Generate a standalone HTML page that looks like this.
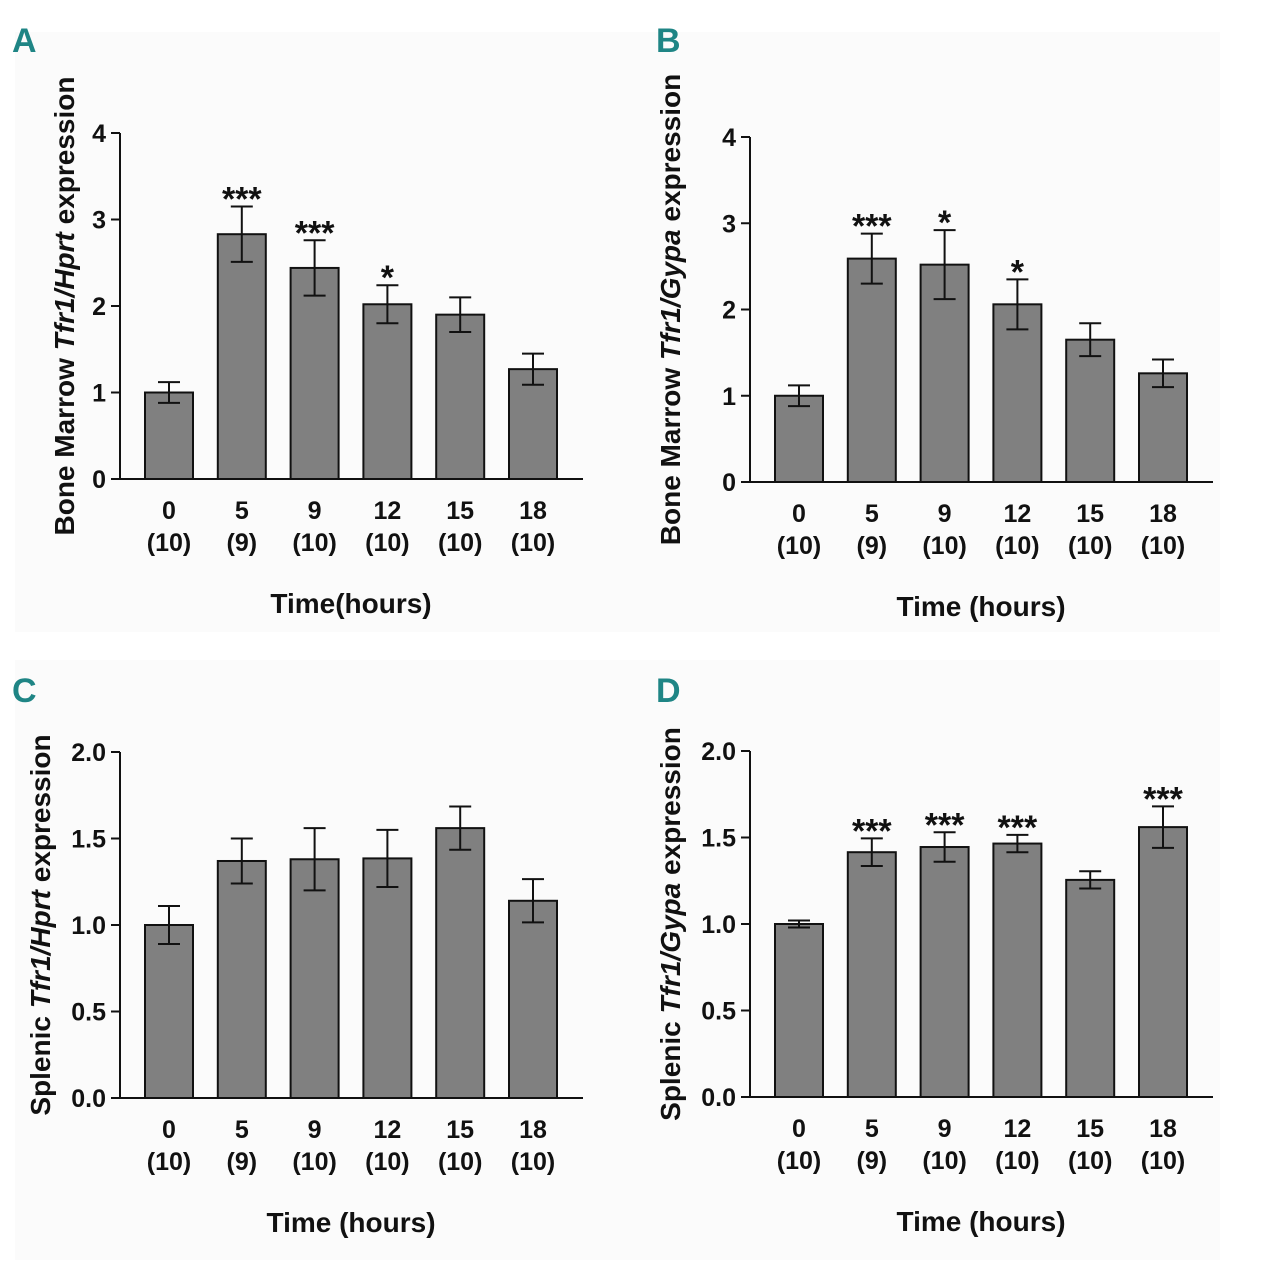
<!DOCTYPE html>
<html><head><meta charset="utf-8">
<style>
html,body{margin:0;padding:0;background:#fff;}
svg{display:block;font-family:"Liberation Sans",Arial,sans-serif;}
</style></head>
<body>
<svg id="fig" width="1261" height="1280" viewBox="0 0 1261 1280" xmlns="http://www.w3.org/2000/svg">
<rect x="15" y="32" width="675" height="600" fill="#fbfbfb"/>
<rect x="640" y="32" width="580" height="600" fill="#fbfbfb"/>
<rect x="15" y="660" width="675" height="600" fill="#fbfbfb"/>
<rect x="640" y="660" width="580" height="600" fill="#fbfbfb"/>
</svg>
<script>
const categories = ["0","5","9","12","15","18"];
const ns = ["(10)","(9)","(10)","(10)","(10)","(10)"];
const valuesA = [1.0, 2.83, 2.44, 2.02, 1.9, 1.27];
const errorsA = [0.12, 0.32, 0.32, 0.22, 0.2, 0.18];
const starsA = ["", "***", "***", "*", "", ""];
const valuesB = [1.0, 2.59, 2.52, 2.06, 1.65, 1.26];
const errorsB = [0.12, 0.29, 0.4, 0.29, 0.19, 0.16];
const starsB = ["", "***", "*", "*", "", ""];
const valuesC = [1.0, 1.37, 1.38, 1.385, 1.56, 1.14];
const errorsC = [0.11, 0.13, 0.18, 0.165, 0.125, 0.125];
const starsC = ["", "", "", "", "", ""];
const valuesD = [1.0, 1.415, 1.445, 1.465, 1.255, 1.56];
const errorsD = [0.02, 0.08, 0.085, 0.05, 0.05, 0.12];
const starsD = ["", "***", "***", "***", "", "***"];
const ticksAB = ["0","1","2","3","4"];
const ticksCD = ["0.0","0.5","1.0","1.5","2.0"];

const svg = document.getElementById('fig');
const NS = "http://www.w3.org/2000/svg";
function mk(tag, attrs, parent, text){
  const e = document.createElementNS(NS, tag);
  for (const k in attrs) e.setAttribute(k, attrs[k]);
  if (text !== undefined) e.textContent = text;
  (parent || svg).appendChild(e);
  return e;
}

function panel(p){
  const g = mk('g', {});
  
  
  const ymax = parseFloat(p.ticks[p.ticks.length-1]);
  const yS = v => p.y0 - (v / ymax) * (p.y0 - p.yTop);
  const xS = i => p.x0 + 49 + i * 72.8;
  const L = mk('text', {x: p.lx, y: p.ly, fill:'#1f8585', 'font-size':34, 'font-weight':'bold', 'font-family':'"Liberation Sans Narrow","Liberation Sans",sans-serif'}, g, p.letter);
  
  
  p.values.forEach((v, i) => {
    const cx = xS(i);
    const b = mk('rect', {x: cx-24, y: yS(v), width: 48, height: p.y0 - yS(v), fill:'#808080', stroke:'#111', 'stroke-width':2}, g);
    
    
    const top = yS(v + p.errors[i]), bot = yS(v - p.errors[i]);
    const eb = mk('path', {d:`M${cx},${top}V${bot}M${cx-11},${top}H${cx+11}M${cx-11},${bot}H${cx+11}`, stroke:'#111', 'stroke-width':2, fill:'none'}, g);
    
    
    if (p.stars[i]) {
      const s = mk('text', {x: cx, y: top + 4, 'text-anchor':'middle', 'font-size':34, 'font-weight':'bold', fill:'#111'}, g, p.stars[i]);
      
      
    }
    const c = mk('text', {x: cx, y: p.y0 + 40, 'text-anchor':'middle', 'font-size':25, 'font-weight':'bold', fill:'#111'}, g, categories[i]);
    
    
    const n = mk('text', {x: cx, y: p.y0 + 72, 'text-anchor':'middle', 'font-size':25, 'font-weight':'bold', fill:'#111'}, g, ns[i]);
    
    
  });
  const ax = mk('path', {d:`M${p.x0},${p.yTop}V${p.y0}H${p.x0+463}`, stroke:'#111', 'stroke-width':2, fill:'none'}, g);
  
  
  p.ticks.forEach(t => {
    const y = yS(parseFloat(t));
    mk('line', {x1: p.x0-9, x2: p.x0, y1: y, y2: y, stroke:'#111', 'stroke-width':2}, g);
    const tl = mk('text', {x: p.x0-14, y: y+9, 'text-anchor':'end', 'font-size':25, 'font-weight':'bold', fill:'#111'}, g, t);
    
    
  });
  const xt = mk('text', {x: p.x0+231, y: p.y0+134, 'text-anchor':'middle', 'font-size':28, 'font-weight':'bold', fill:'#111'}, g, p.xTitle);
  
  
  const cy = (p.y0 + p.yTop)/2 + p.tyOff;
  const yt = mk('text', {x: 0, y: 0, transform:`translate(${p.tx},${cy}) rotate(-90)`, 'text-anchor':'middle', 'font-size':28, 'font-weight':'bold', fill:'#111'}, g);
  
  
  mk('tspan', {}, yt, p.yT[0]);
  mk('tspan', {'font-style':'italic'}, yt, p.yT[1]);
  mk('tspan', {}, yt, p.yT[2]);
}

panel({id:'a', letter:'A', lx:12, ly:52, x0:120, y0:479, yTop:133, ticks:ticksAB, values:valuesA, errors:errorsA, stars:starsA, xTitle:'Time(hours)', tx:74, tyOff:0, yT:['Bone Marrow ','Tfr1/Hprt',' expression']});
panel({id:'b', letter:'B', lx:656, ly:52, x0:750, y0:482, yTop:137, ticks:ticksAB, values:valuesB, errors:errorsB, stars:starsB, xTitle:'Time (hours)', tx:680, tyOff:0, yT:['Bone Marrow ','Tfr1/Gypa',' expression']});
panel({id:'c', letter:'C', lx:12, ly:702, x0:120, y0:1098, yTop:752, ticks:ticksCD, values:valuesC, errors:errorsC, stars:starsC, xTitle:'Time (hours)', tx:50, tyOff:0, yT:['Splenic ','Tfr1/Hprt',' expression']});
panel({id:'d', letter:'D', lx:656, ly:702, x0:750, y0:1097, yTop:751, ticks:ticksCD, values:valuesD, errors:errorsD, stars:starsD, xTitle:'Time (hours)', tx:680, tyOff:0, yT:['Splenic ','Tfr1/Gypa',' expression']});
</script>
</body></html>
